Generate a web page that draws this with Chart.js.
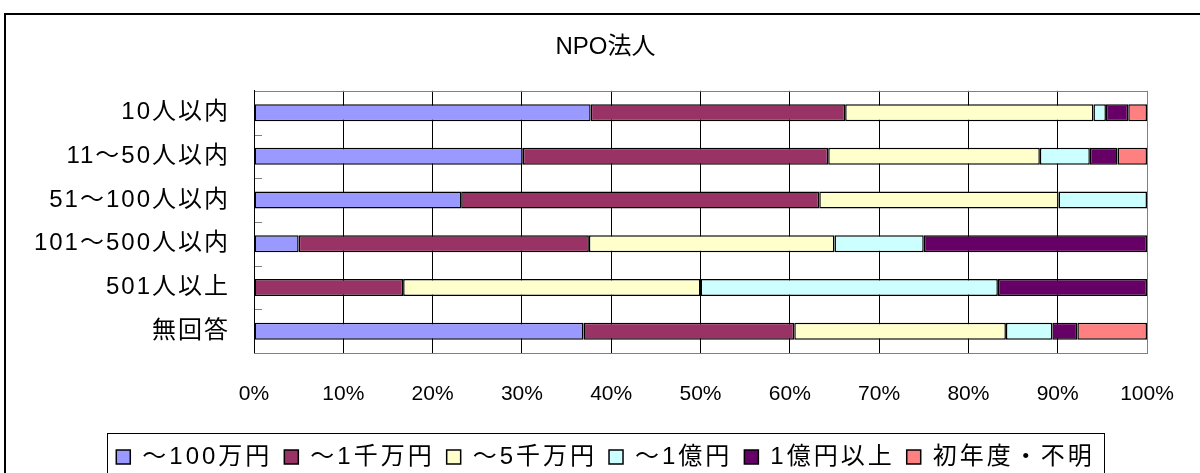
<!DOCTYPE html>
<html>
<head>
<meta charset="utf-8">
<script src="https://cdn.jsdelivr.net/npm/chart.js@4/dist/chart.umd.min.js"></script>
<style>
html,body{margin:0;padding:0;background:#fff;}
canvas{display:block;}
</style>
</head>
<body>
<canvas id="c" width="1200" height="473"></canvas>
<script>
// ---- data ----
const categories = ['10人以内', '11～50人以内', '51～100人以内', '101～500人以内', '501人以上', '無回答'];
const seriesNames = ['～100万円', '～1千万円', '～5千万円', '～1億円', '1億円以上', '初年度・不明'];
const upTo1M    = [37.7, 30.1, 23.2,  5.0,  0.0, 36.9];
const upTo10M   = [28.5, 34.2, 40.1, 32.5, 16.7, 23.6];
const upTo50M   = [27.8, 23.7, 26.8, 27.5, 33.3, 23.7];
const upTo100M  = [ 1.4,  5.6,  9.9, 10.0, 33.3,  5.2];
const over100M  = [ 2.5,  3.1,  0.0, 25.0, 16.7,  2.8];
const unknown   = [ 2.1,  3.3,  0.0,  0.0,  0.0,  7.8];
const xTickLabels = ['0%', '10%', '20%', '30%', '40%', '50%', '60%', '70%', '80%', '90%', '100%'];
const seriesColors = ['#9999FF', '#993366', '#FFFFCC', '#CCFFFF', '#660066', '#FF8080'];

const seriesValues = [upTo1M, upTo10M, upTo50M, upTo100M, over100M, unknown];
const FONT = "'Liberation Sans', 'Noto Sans CJK JP', sans-serif";

function withSpacing(obj, method, ls) {
  if (!obj || typeof obj[method] !== 'function' || obj['__ls_' + method]) return;
  const orig = obj[method];
  obj[method] = function (...args) {
    const ctx = this.ctx;
    const prev = ctx.letterSpacing;
    ctx.letterSpacing = ls;
    try { return orig.apply(this, args); } finally { ctx.letterSpacing = prev; }
  };
  obj['__ls_' + method] = true;
}

const spacingPlugin = {
  id: 'spacing',
  beforeLayout(chart) {
    const ys = chart.scales.y;
    if (ys && !ys.__noclip) {
      ys._computeLabelArea = function () { return undefined; };
      ys.__noclip = true;
    }
    withSpacing(ys, 'drawLabels', '2px');
    withSpacing(chart.scales.x, 'drawLabels', '0px');
    withSpacing(chart.legend, 'fit', '3px');
    withSpacing(chart.legend, 'draw', '3px');
    withSpacing(chart.titleBlock, 'draw', '0px');
  }
};

const framePlugin = {
  id: 'frame',
  afterDraw(chart) {
    const ctx = chart.ctx;
    const a = chart.chartArea;
    const ys = chart.scales.y;
    ctx.save();
    // plot area top border
    ctx.strokeStyle = '#808080';
    ctx.lineWidth = 1;
    ctx.beginPath();
    ctx.moveTo(a.left, Math.round(a.top) + 0.5); ctx.lineTo(a.right, Math.round(a.top) + 0.5);
    ctx.stroke();
    // inside tick marks on the category axis
    for (let i = 0; i <= categories.length; i++) {
      const py = Math.round(ys.getPixelForValue(i - 0.5)) + 0.5;
      ctx.beginPath();
      ctx.moveTo(a.left, py);
      ctx.lineTo(a.left + 8, py);
      ctx.stroke();
    }
    // left axis line
    ctx.strokeStyle = '#000';
    ctx.beginPath();
    ctx.moveTo(Math.round(a.left) + 0.5, a.top); ctx.lineTo(Math.round(a.left) + 0.5, a.bottom);
    ctx.stroke();
    // legend frame
    const hb = chart.legend.legendHitBoxes;
    if (hb && hb.length) {
      const first = hb[0], last = hb[hb.length - 1];
      const cy = first.top + first.height / 2;
      const x0 = Math.round(first.left - 9) + 0.5;
      const x1 = Math.round(last.left + last.width + 9) + 0.5;
      const y0 = Math.round(cy - 24) + 0.5;
      ctx.strokeStyle = '#000';
      ctx.lineWidth = 1;
      ctx.strokeRect(x0, y0, x1 - x0, 200);
    }
    // outer chart frame
    ctx.lineWidth = 2;
    ctx.strokeStyle = '#000';
    ctx.strokeRect(5, 14, 1400, 700);
    ctx.restore();
  }
};

new Chart(document.getElementById('c'), {
  type: 'bar',
  data: {
    labels: categories,
    datasets: seriesNames.map((name, i) => ({
      label: name,
      data: seriesValues[i],
      backgroundColor: seriesColors[i],
      borderColor: '#000',
      borderWidth: 1.5,
      borderSkipped: false,
      barPercentage: 0.39,
      categoryPercentage: 1
    }))
  },
  options: {
    indexAxis: 'y',
    responsive: false,
    animation: false,
    events: [],
    layout: { padding: { top: 13, left: 64, right: 53, bottom: -6 } },
    scales: {
      x: {
        stacked: true,
        min: 0,
        max: 100,
        ticks: {
          stepSize: 10,
          autoSkip: false,
          maxRotation: 0,
          padding: 29,
          color: '#000',
          font: { family: FONT, size: 21 },
          callback: (v, i) => xTickLabels[i]
        },
        grid: {
          drawTicks: false,
          lineWidth: 1,
          color: (c) => (c.index === xTickLabels.length - 1 ? '#808080' : '#000')
        },
        border: { display: true, color: '#808080', width: 1 },
        afterFit(s) { s.height = 80; s.paddingLeft = 0; s.paddingRight = 0; }
      },
      y: {
        stacked: true,
        ticks: {
          padding: 24,
          color: '#000',
          font: { family: FONT, size: 24 }
        },
        grid: { display: false, drawTicks: false },
        border: { display: true, color: '#000', width: 1 },
        afterFit(s) { s.width = 190; }
      }
    },
    plugins: {
      title: {
        display: true,
        text: 'NPO法人',
        color: '#000',
        font: { family: FONT, size: 24, weight: 'normal' },
        padding: { top: 20, bottom: 29 }
      },
      legend: {
        position: 'bottom',
        labels: {
          color: '#000',
          font: { family: FONT, size: 24 },
          boxWidth: 14,
          boxHeight: 14,
          padding: 12
        }
      },
      tooltip: { enabled: false }
    }
  },
  plugins: [spacingPlugin, framePlugin]
});
</script>
</body>
</html>
